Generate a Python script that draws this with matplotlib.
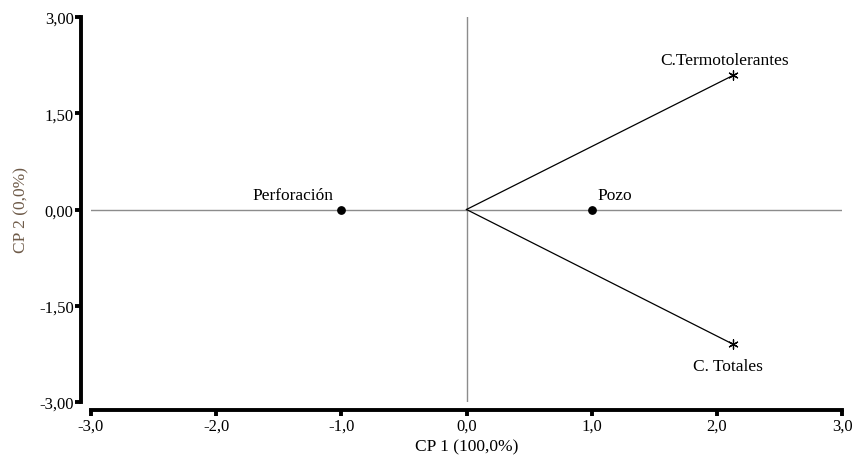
import matplotlib.pyplot as plt

# datos del biplot
obs_nombres = ["Perforación", "Pozo"]
obs_x = [-1.0, 1.0]
obs_y = [0.0, 0.0]

var_nombres = ["C.Termotolerantes", "C. Totales"]
var_x = [2.13, 2.13]
var_y = [2.09, -2.10]

xticks = [-3.0, -2.0, -1.0, 0.0, 1.0, 2.0, 3.0]
yticks = [-3.0, -1.5, 0.0, 1.5, 3.0]

plt.rcParams['font.family'] = ['Liberation Serif', 'DejaVu Serif']

fig = plt.figure(figsize=(8.55, 4.6), dpi=100)
ax = fig.add_axes([91 / 855, 1 - 403 / 460, 751 / 855, 385 / 460])

ax.axhline(0, color="#8c8c8c", lw=1, zorder=1)
ax.axvline(0, color="#8c8c8c", lw=1, zorder=1)

for x, y in zip(var_x, var_y):
    ax.plot([0, x], [0, y], color="black", lw=0.9, zorder=2)
ax.scatter(var_x, var_y, marker=(6, 2, 0), s=45, color="black", lw=0.9, zorder=3)
ax.scatter(obs_x, obs_y, marker="o", s=28, color="black", zorder=3)

ax.annotate(obs_nombres[0], (obs_x[0], obs_y[0]), xytext=(-6, 4.5), textcoords="offset points",
            ha="right", va="bottom", fontsize=12.5)
ax.annotate(obs_nombres[1], (obs_x[1], obs_y[1]), xytext=(4, 4.5), textcoords="offset points",
            ha="left", va="bottom", fontsize=12.5)
ax.annotate(var_nombres[0], (var_x[0], var_y[0]), xytext=(-6, 5.5), textcoords="offset points",
            ha="center", va="bottom", fontsize=12.5)
ax.annotate(var_nombres[1], (var_x[1], var_y[1]), xytext=(-4, -10), textcoords="offset points",
            ha="center", va="top", fontsize=12.5)

ax.set_xlim(-3, 3)
ax.set_ylim(-3, 3)
ax.set_xticks(xticks)
ax.set_yticks(yticks)
ax.set_xticklabels([f"{t:.1f}".replace(".", ",") for t in xticks])
ax.set_yticklabels([f"{t:.2f}".replace(".", ",") for t in yticks])

for lado in ["top", "right"]:
    ax.spines[lado].set_visible(False)
ax.spines["left"].set_position(("outward", 7))
ax.spines["bottom"].set_position(("outward", 6))
ax.spines["left"].set_linewidth(2.8)
ax.spines["bottom"].set_linewidth(2.8)
ax.tick_params(axis="both", direction="out", length=4, width=2.8, labelsize=12, pad=1.5)

ax.set_xlabel("CP 1 (100,0%)", fontsize=12.5, labelpad=3)
ax.set_ylabel("CP 2 (0,0%)", fontsize=12.5, color="#6e5a48", labelpad=7)

fig.savefig("out.png", dpi=100)
